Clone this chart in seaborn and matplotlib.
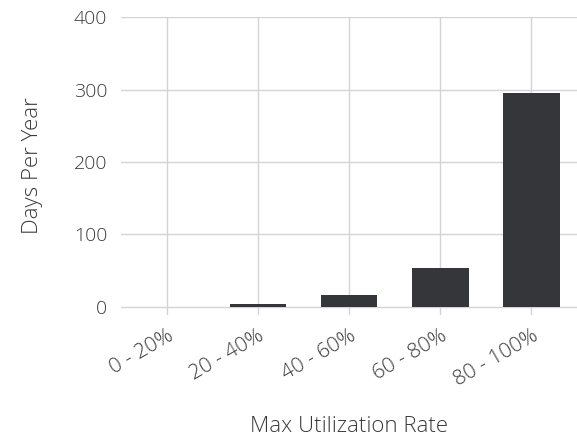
import pandas as pd
import matplotlib.pyplot as plt
import seaborn as sns

sns.set_theme(style="whitegrid")
plt.rcParams['font.family'] = ['Open Sans', 'DejaVu Sans']

rates = ["0 - 20%", "20 - 40%", "40 - 60%", "60 - 80%", "80 - 100%"]
days = [0, 4, 16, 54, 296]

df = pd.DataFrame({"Max Utilization Rate": rates, "Days Per Year": days})

fig = plt.figure(figsize=(5.77, 4.41), dpi=100)
ax = fig.add_axes([0.21, 0.286, 0.79, 0.675])

sns.barplot(x="Max Utilization Rate", y="Days Per Year", data=df,
            color="#33363b", width=0.62, ax=ax, zorder=3, linewidth=0)

ax.set_ylim(-11, 400)
ax.set_yticks([0, 100, 200, 300, 400])
ax.set_xlim(-0.5, 4.5)
for s in ax.spines.values():
    s.set_visible(False)
ax.grid(True, color="#d4d4d4", linewidth=1)
ax.set_axisbelow(True)

ax.tick_params(axis="y", labelsize=14, colors="#3a3a3a", length=0, pad=10)
ax.tick_params(axis="x", labelsize=15, colors="#3a3a3a", length=0, pad=8)
plt.setp(ax.get_xticklabels(), rotation=30, ha="right", rotation_mode="anchor",
         fontweight="light")
plt.setp(ax.get_yticklabels(), fontweight="light")
ax.set_xlabel("Max Utilization Rate", fontsize=16, color="#3a3a3a",
              fontweight="light")
ax.xaxis.set_label_coords(0.5, -0.34)
ax.set_ylabel("Days Per Year", fontsize=16, color="#3a3a3a",
              fontweight="light", labelpad=22)

plt.savefig("out.png", dpi=100)
